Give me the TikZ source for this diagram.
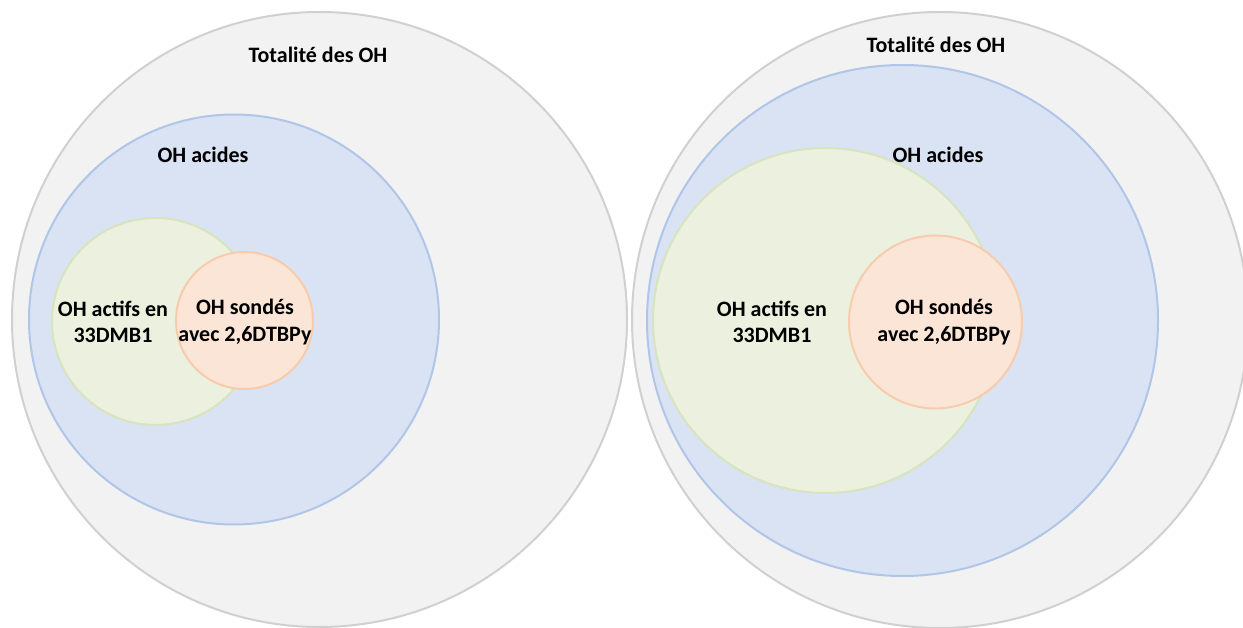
\documentclass[tikz,border=0pt]{standalone}
\usepackage{fontspec}
\setmainfont{Carlito}
\definecolor{greyfill}{HTML}{F2F2F2}
\definecolor{greyline}{HTML}{D0D0D0}
\definecolor{bluefill}{HTML}{DAE3F3}
\definecolor{blueline}{HTML}{B0C6E8}
\definecolor{greenfill}{HTML}{EBF1DE}
\definecolor{greenline}{HTML}{D7E4BD}
\definecolor{orangefill}{HTML}{FBE5D6}
\definecolor{orangeline}{HTML}{F8CBAD}
\tikzset{
  set/.style={circle, line width=2pt, inner sep=0pt},
  greyset/.style={set, draw=greyline, fill=greyfill},
  blueset/.style={set, draw=blueline, fill=bluefill},
  greenset/.style={set, draw=greenline, fill=greenfill},
  orangeset/.style={set, draw=orangeline, fill=orangefill},
  lbl/.style={font=\fontsize{22}{26.5}\selectfont\bfseries, align=center, inner sep=0pt, text=black}
}
\begin{document}
\begin{tikzpicture}[x=1pt,y=-1pt]
\useasboundingbox (0,0) rectangle (1243,628);
\clip (0,0) rectangle (1243,628);
\fill[white] (0,0) rectangle (1243,628);
% left diagram
\node[greyset, minimum size=615pt] (Lall) at (319.5,319.5) {};
\node[blueset, minimum size=410pt] (Lacid) at (234,319.5) {};
\node[greenset, minimum size=207pt] (Lact) at (155.5,321.5) {};
\node[orangeset, minimum size=137pt] (Lson) at (244.5,320.5) {};
\node[lbl] (LallT) at (318,55) {Totalité des OH};
\node[lbl] (LacidT) at (203,155) {OH acides};
\node[lbl] (LactT) at (113,322) {OH actifs en\\33DMB1};
\node[lbl] (LsonT) at (245,322) {OH sondés\\avec 2,6DTBPy};
% right diagram
\node[greyset, minimum size=616pt] (Rall) at (940,320) {};
\node[blueset, minimum size=511pt] (Racid) at (902.5,320.5) {};
\node[greenset, minimum size=345pt] (Ract) at (825.5,320.5) {};
\node[orangeset, minimum size=173pt] (Rson) at (935.5,322) {};
\node[lbl] (RallT) at (936,45) {Totalité des OH};
\node[lbl] (RacidT) at (938,155) {OH acides};
\node[lbl] (RactT) at (772,322) {OH actifs en\\33DMB1};
\node[lbl] (RsonT) at (944,322) {OH sondés\\avec 2,6DTBPy};
\end{tikzpicture}
\end{document}
